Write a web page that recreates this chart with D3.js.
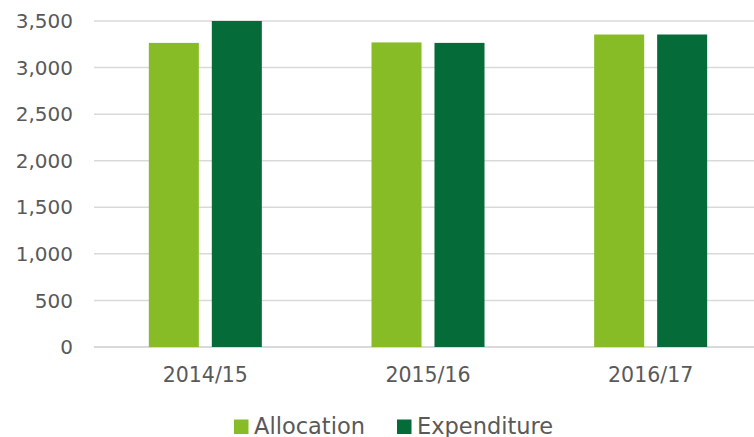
<!DOCTYPE html>
<html>
<head>
<meta charset="utf-8">
<script src="https://cdn.jsdelivr.net/npm/d3@7"></script>
<style>
  html, body { margin: 0; padding: 0; background: #fff; }
  svg { display: block; }
  text { font-family: "DejaVu Sans", Verdana, sans-serif; fill: #595959; }
</style>
</head>
<body>
<svg id="chart" width="754" height="437"></svg>
<script>
const categories = ["2014/15", "2015/16", "2016/17"];
const seriesNames = ["Allocation", "Expenditure"];
const allocation = [3265, 3270, 3355];
const expenditure = [3500, 3265, 3355];
const yTicks = [0, 500, 1000, 1500, 2000, 2500, 3000, 3500];
const colors = ["#88bc26", "#056b38"];

const values = [allocation, expenditure];
const svg = d3.select("#chart");

const x0 = d3.scaleBand().domain(categories).range([94, 762]).padding(0);
const x1 = d3.scaleBand().domain(seriesNames).range([-56.5, 56.5]).paddingInner(0.206).paddingOuter(0);
const y = d3.scaleLinear().domain([0, 3500]).range([347, 21]);

// gridlines
svg.append("g").selectAll("line").data(yTicks).join("line")
  .attr("x1", 94).attr("x2", 754)
  .attr("y1", d => y(d)).attr("y2", d => y(d))
  .attr("stroke", "#d9d9d9").attr("stroke-width", d => d === 0 ? 2 : 1.5);

// y labels
svg.append("g").selectAll("text").data(yTicks).join("text")
  .attr("x", 73).attr("y", d => y(d)).attr("dy", "0.36em")
  .attr("text-anchor", "end").attr("font-size", "20px")
  .text(d => d3.format(",")(d));

// bars
seriesNames.forEach((s, si) => {
  svg.append("g").selectAll("rect").data(categories).join("rect")
    .attr("x", c => x0(c) + x0.bandwidth() / 2 + x1(s))
    .attr("width", x1.bandwidth())
    .attr("y", (c, i) => y(values[si][i]))
    .attr("height", (c, i) => y(0) - y(values[si][i]))
    .attr("fill", colors[si]);
});

// x labels
svg.append("g").selectAll("text").data(categories).join("text")
  .attr("x", c => x0(c) + x0.bandwidth() / 2).attr("y", 382)
  .attr("text-anchor", "middle").attr("font-size", "20.5px")
  .text(c => c);

// legend
const legendSq = [234, 397];
const legendTx = [254, 417];
const lg = svg.append("g");
seriesNames.forEach((s, i) => {
  lg.append("rect").attr("x", legendSq[i]).attr("y", 419.5).attr("width", 14.5).attr("height", 14.5).attr("fill", colors[i]);
  lg.append("text").attr("x", legendTx[i]).attr("y", 433.5).attr("font-size", "22.5px").text(s);
});
</script>
</body>
</html>
